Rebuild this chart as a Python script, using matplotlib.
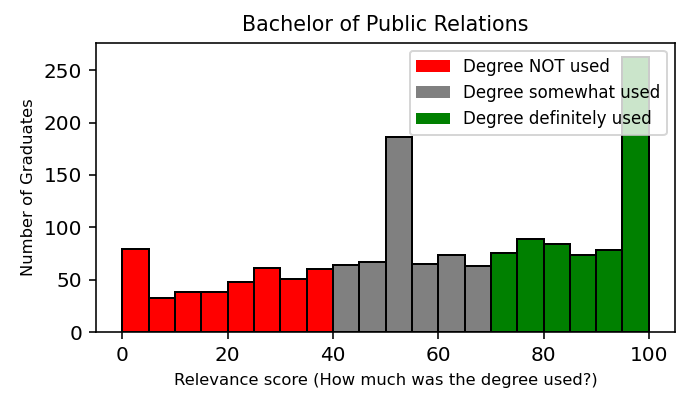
import matplotlib
matplotlib.use("Agg")
import matplotlib.pyplot as plt
from matplotlib.patches import Patch

bin_left = [0, 5, 10, 15, 20, 25, 30, 35, 40, 45, 50, 55, 60, 65, 70, 75, 80, 85, 90, 95]
counts = [79, 33, 38, 38, 48, 61, 51, 60, 64, 67, 186, 65, 74, 63, 76, 89, 84, 74, 78, 263]
groups = ["Degree NOT used", "Degree somewhat used", "Degree definitely used"]
group_colors = ["red", "grey", "green"]
group_bounds = [40, 70]

def group_of(x):
    if x < group_bounds[0]:
        return 0
    if x < group_bounds[1]:
        return 1
    return 2

fig = plt.figure(figsize=(691 / 144, 408 / 144), dpi=144)
ax = fig.add_axes([0.139, 0.186, 0.838, 0.709])

for g in range(3):
    xs = [b for b in bin_left if group_of(b) == g]
    ys = [c for b, c in zip(bin_left, counts) if group_of(b) == g]
    ax.bar(xs, ys, width=5, align="edge", color=group_colors[g],
           edgecolor="black", linewidth=1.0)

ax.set_title("Bachelor of Public Relations", fontsize=10.3)
ax.set_xlabel("Relevance score (How much was the degree used?)", fontsize=8.2)
ax.set_ylabel("Number of Graduates", fontsize=8.2)
ax.tick_params(axis="both", labelsize=10)
ax.set_xticks([0, 20, 40, 60, 80, 100])
ax.set_yticks([0, 50, 100, 150, 200, 250])
handles = [Patch(facecolor=c, label=l) for c, l in zip(group_colors, groups)]
ax.legend(handles=handles, loc="upper right", fontsize=8.3)

fig.savefig("out.png", dpi=144)
